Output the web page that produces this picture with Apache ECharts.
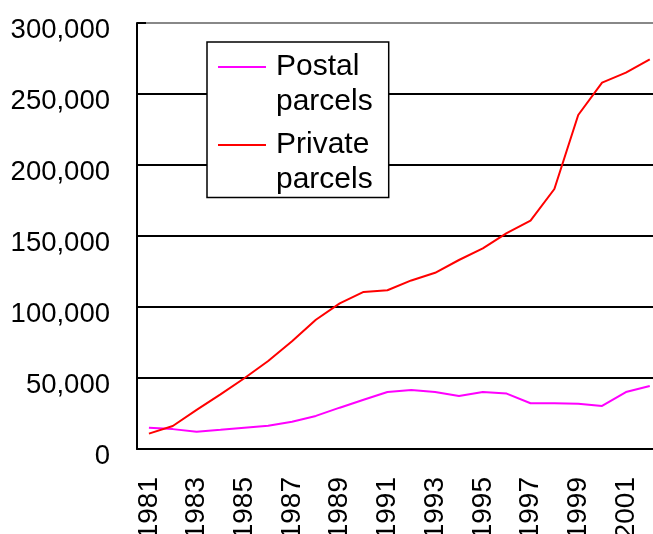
<!DOCTYPE html>
<html>
<head>
<meta charset="utf-8">
<script src="https://cdn.jsdelivr.net/npm/echarts@6/dist/echarts.min.js"></script>
<style>
  html, body { margin: 0; padding: 0; background: #fff; }
  #chart { width: 653px; height: 534px; }
</style>
</head>
<body>
<div id="chart"></div>
<script>
// years on the x axis
const years = ['1981', '1982', '1983', '1984', '1985', '1986', '1987', '1988', '1989', '1990', '1991',
  '1992', '1993', '1994', '1995', '1996', '1997', '1998', '1999', '2000', '2001', '2002'];

// values
const postalParcels = [15000, 14000, 12200, 13500, 15000, 16400, 19200, 23300, 29100, 34700, 40100,
  41500, 40100, 37300, 40100, 39000, 32200, 32200, 31900, 30300, 40100, 44400];
const privateParcels = [10800, 16200, 27500, 38500, 49800, 62000, 75900, 91000, 102600, 110600, 111800,
  118700, 124100, 133100, 141300, 152000, 160800, 183100, 235200, 258000, 265000, 274400];

const seriesNames = ['Postal\nparcels', 'Private\nparcels'];

const font = 'Liberation Sans, Arial, sans-serif';
const chart = echarts.init(document.getElementById('chart'));

chart.setOption({
  backgroundColor: '#fff',
  animation: false,
  grid: { left: 137, top: 23, width: 524.7, height: 426, outerBoundsMode: 'none', containLabel: false },
  legend: {
    orient: 'vertical',
    left: 207,
    top: 42,
    padding: [7.5, 16, 0, 11],
    backgroundColor: '#fff',
    borderColor: '#000',
    borderWidth: 1.5,
    itemWidth: 53,
    itemHeight: 70,
    itemGap: 8,
    icon: 'path://M0,16.5L48,16.5L48,18.5L0,18.5Z M53,0L53,0.01L53.01,0.01Z M0,70L0,69.99L0.01,69.99Z',
    itemStyle: { borderWidth: 0 },
    textStyle: { fontFamily: font, fontSize: 30, lineHeight: 35, color: '#000' },
    data: seriesNames
  },
  xAxis: {
    type: 'category',
    data: years,
    boundaryGap: true,
    axisLine: { lineStyle: { color: '#000', width: 2 } },
    axisTick: { inside: true, length: 9, interval: 0, lineStyle: { color: '#000', width: 2 } },
    axisLabel: {
      interval: 1,
      rotate: 90,
      margin: 28,
      color: '#000',
      fontFamily: font,
      fontSize: 28
    },
    splitLine: { show: false }
  },
  yAxis: {
    type: 'value',
    min: 0,
    max: 300000,
    interval: 50000,
    axisLine: { show: true, lineStyle: { color: '#000', width: 2 } },
    axisTick: { show: true, inside: true, length: 9, lineStyle: { color: '#000', width: 2 } },
    axisLabel: {
      margin: 27,
      color: '#000',
      formatter: v => '{n|' + v.toLocaleString('en-US') + '}',
      rich: {
        n: { fontFamily: font, fontSize: 27.5, color: '#000', padding: [14, 0, 0, 0] }
      }
    },
    splitLine: {
      show: true,
      showMinLine: false,
      lineStyle: { color: ['#000', '#000', '#000', '#000', '#000', '#888'], width: 2 }
    }
  },
  series: [
    {
      name: seriesNames[0],
      type: 'line',
      data: postalParcels,
      showSymbol: false,
      color: '#ff00ff',
      lineStyle: { color: '#ff00ff', width: 2 }
    },
    {
      name: seriesNames[1],
      type: 'line',
      data: privateParcels,
      showSymbol: false,
      color: '#ff0000',
      lineStyle: { color: '#ff0000', width: 2 }
    }
  ]
});
</script>
</body>
</html>
